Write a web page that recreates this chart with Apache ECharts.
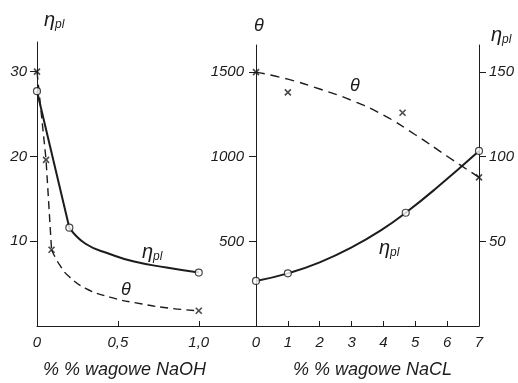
<!DOCTYPE html>
<html>
<head>
<meta charset="utf-8">
<script src="https://cdn.jsdelivr.net/npm/echarts@6/dist/echarts.min.js"></script>
<style>
html,body{margin:0;padding:0;background:#fff;}
#c{width:518px;height:383px;}
</style>
</head>
<body>
<div id="c"></div>
<script>
// ---- Left panel: % NaOH ----
var naohEtaCurve = [[0,27.7],[0.2,11.6],[0.3,9.7],[0.45,8.5],[0.6,7.6],[0.8,6.9],[1.0,6.3]];
var naohEtaPoints = [[0,27.7],[0.2,11.6],[1.0,6.3]];
var naohThetaCurve = [[0,30],[0.056,19.6],[0.09,9.0],[0.14,7.2],[0.2,5.8],[0.3,4.45],[0.45,3.4],[0.65,2.6],[0.82,2.1],[1.0,1.8]];
var naohThetaPoints = [[0,30],[0.056,19.6],[0.09,9.0],[1.0,1.8]];
var naohXLabels = [0,0.5,1.0];
var naohYLabels = [10,20,30];

// ---- Right panel: % NaCl ----
var naclThetaCurve = [[0,1500],[1,1458],[2,1400],[3,1333],[4,1246],[5,1130],[6,1003],[7,878]];
var naclThetaPoints = [[0,1500],[1,1380],[4.6,1260],[7,878]];
var naclEtaCurve = [[0,26.6],[1,31.1],[2,37.6],[3,46.4],[4,57.5],[4.7,66.9],[5.6,80.5],[7,103.4]];
var naclEtaPoints = [[0,26.6],[1,31.1],[4.7,66.9],[7,103.4]];
var naclThetaLabels = [500,1000,1500];
var naclEtaLabels = [50,100,150];

var INK = '#1c1c1c';
var FONT = "'Liberation Sans','DejaVu Sans',sans-serif";
var xMark = 'path://M0,0L10,10M10,0L0,10';

function lbl(extra){
  return Object.assign({color:INK,fontFamily:FONT,fontStyle:'italic',fontSize:15}, extra||{});
}
var axLine = {show:true,lineStyle:{color:INK,width:1}};
var plain = function(v){return String(v);};

var chart = echarts.init(document.getElementById('c'), null, {renderer:'canvas'});
chart.setOption({
  animation:false,
  backgroundColor:'#fff',
  grid:[
    {left:37, right:261, top:42, bottom:57},
    {left:256, right:39, top:45, bottom:57}
  ],
  xAxis:[
    {gridIndex:0,type:'value',min:0,max:1.36,
     axisLine:axLine,splitLine:{show:false},
     axisTick:{show:true,inside:true,length:5,customValues:[0.5,1.0],lineStyle:{color:INK}},
     axisLabel:Object.assign(lbl({margin:9}),{customValues:naohXLabels,
       formatter:function(v){return v===0?'0':v.toFixed(1).replace('.',',');}})},
    {gridIndex:1,type:'value',min:0,max:7,interval:1,
     axisLine:axLine,splitLine:{show:false},
     axisTick:{show:true,inside:true,length:5,lineStyle:{color:INK}},
     axisLabel:Object.assign(lbl({margin:9}),{formatter:plain})}
  ],
  yAxis:[
    {gridIndex:0,type:'value',min:0,max:33.5,
     axisLine:axLine,splitLine:{show:false},
     axisTick:{show:true,length:7,customValues:naohYLabels,lineStyle:{color:INK}},
     axisLabel:Object.assign(lbl({margin:10}),{customValues:naohYLabels,formatter:plain})},
    {gridIndex:1,type:'value',min:0,max:1660,position:'left',
     axisLine:axLine,splitLine:{show:false},
     axisTick:{show:true,length:7,customValues:naclThetaLabels,lineStyle:{color:INK}},
     axisLabel:Object.assign(lbl({margin:12}),{customValues:naclThetaLabels,formatter:plain})},
    {gridIndex:1,type:'value',min:0,max:166,position:'right',
     axisLine:axLine,splitLine:{show:false},
     axisTick:{show:true,length:7,customValues:naclEtaLabels,lineStyle:{color:INK}},
     axisLabel:Object.assign(lbl({margin:10}),{customValues:naclEtaLabels,formatter:plain})}
  ],
  series:[
    {type:'line',xAxisIndex:0,yAxisIndex:0,data:naohEtaCurve.slice(0,2),showSymbol:false,
     lineStyle:{color:INK,width:2}},
    {type:'line',xAxisIndex:0,yAxisIndex:0,data:naohEtaCurve.slice(1),smooth:0.5,showSymbol:false,
     lineStyle:{color:INK,width:2}},
    {type:'line',xAxisIndex:0,yAxisIndex:0,data:naohThetaCurve.slice(0,3),showSymbol:false,
     lineStyle:{color:INK,width:1.4,type:[8,5]}},
    {type:'line',xAxisIndex:0,yAxisIndex:0,data:naohThetaCurve.slice(2),smooth:0.5,showSymbol:false,
     lineStyle:{color:INK,width:1.4,type:[8,5]}},
    {type:'line',xAxisIndex:1,yAxisIndex:1,data:naclThetaCurve,smooth:0.5,showSymbol:false,
     lineStyle:{color:INK,width:1.4,type:[9,6]}},
    {type:'line',xAxisIndex:1,yAxisIndex:2,data:naclEtaCurve,smooth:0.5,showSymbol:false,
     lineStyle:{color:INK,width:2}},
    {type:'scatter',xAxisIndex:0,yAxisIndex:0,data:naohEtaPoints,symbol:'circle',symbolSize:7,z:5,
     itemStyle:{color:'#fff',borderColor:INK,borderWidth:1.2}},
    {type:'scatter',xAxisIndex:0,yAxisIndex:0,data:naohThetaPoints,symbol:xMark,symbolSize:6,z:5,
     itemStyle:{color:'none',borderColor:INK,borderWidth:1.6}},
    {type:'scatter',xAxisIndex:1,yAxisIndex:1,data:naclThetaPoints,symbol:xMark,symbolSize:6,z:5,
     itemStyle:{color:'none',borderColor:INK,borderWidth:1.6}},
    {type:'scatter',xAxisIndex:1,yAxisIndex:2,data:naclEtaPoints,symbol:'circle',symbolSize:7,z:5,
     itemStyle:{color:'#fff',borderColor:INK,borderWidth:1.2}}
  ],
  graphic:[
    {type:'text',left:44,top:10,style:{rich:{a:{fontSize:20,fontStyle:'italic',fontFamily:FONT,fill:INK},b:{fontSize:12,fontStyle:'italic',fontFamily:FONT,fill:INK,padding:[10,0,0,0]}},text:'{a|η}{b|pl}'}},
    {type:'text',left:254,top:17,style:{text:'θ',fontSize:18,fontStyle:'italic',fontFamily:FONT,fill:INK}},
    {type:'text',left:491,top:25,style:{rich:{a:{fontSize:20,fontStyle:'italic',fontFamily:FONT,fill:INK},b:{fontSize:12,fontStyle:'italic',fontFamily:FONT,fill:INK,padding:[10,0,0,0]}},text:'{a|η}{b|pl}'}},
    {type:'text',left:142,top:242,style:{rich:{a:{fontSize:20,fontStyle:'italic',fontFamily:FONT,fill:INK},b:{fontSize:12,fontStyle:'italic',fontFamily:FONT,fill:INK,padding:[10,0,0,0]}},text:'{a|η}{b|pl}'}},
    {type:'text',left:121,top:281,style:{text:'θ',fontSize:18,fontStyle:'italic',fontFamily:FONT,fill:INK}},
    {type:'text',left:350,top:77,style:{text:'θ',fontSize:18,fontStyle:'italic',fontFamily:FONT,fill:INK}},
    {type:'text',left:379,top:238,style:{rich:{a:{fontSize:20,fontStyle:'italic',fontFamily:FONT,fill:INK},b:{fontSize:12,fontStyle:'italic',fontFamily:FONT,fill:INK,padding:[10,0,0,0]}},text:'{a|η}{b|pl}'}},
    {type:'text',left:43,top:361,style:{text:'% % wagowe NaOH',fontSize:18,fontStyle:'italic',fontFamily:FONT,fill:INK}},
    {type:'text',left:293,top:361,style:{text:'% % wagowe NaCL',fontSize:18,fontStyle:'italic',fontFamily:FONT,fill:INK}}
  ]
});
</script>
</body>
</html>
